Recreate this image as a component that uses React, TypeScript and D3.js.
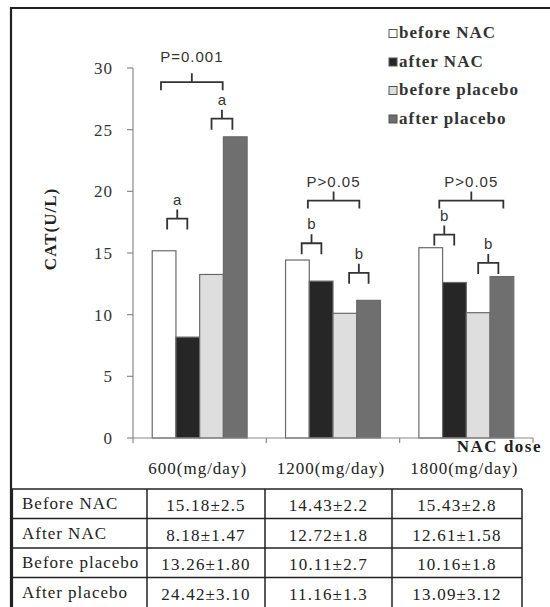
import React from 'react';
import * as d3 from 'd3';

const doses = ['600(mg/day)', '1200(mg/day)', '1800(mg/day)'];
const seriesNames = ['before NAC', 'after NAC', 'before placebo', 'after placebo'];
const seriesColors = ['#ffffff', '#262626', '#dedede', '#6f6f6f'];

const beforeNAC = [15.18, 14.43, 15.43];
const afterNAC = [8.18, 12.72, 12.61];
const beforePlacebo = [13.26, 10.11, 10.16];
const afterPlacebo = [24.42, 11.16, 13.09];

const beforeNACsd = ['2.5', '2.2', '2.8'];
const afterNACsd = ['1.47', '1.8', '1.58'];
const beforePlaceboSd = ['1.80', '2.7', '1.8'];
const afterPlaceboSd = ['3.10', '1.3', '3.12'];

const tableRows = ['Before NAC', 'After NAC', 'Before placebo', 'After placebo'];
const yTicks = [0, 5, 10, 15, 20, 25, 30];

// significance brackets: group index, span in bar units, base level in data units
const brackets = [
  { g: 0, u0: 0.37, u1: 2.97, level: 28.2, label: 'P=0.001', kind: 'p', gap: 11 },
  { g: 0, u0: 0.63, u1: 1.48, level: 16.9, label: 'a', kind: 'l', gap: 5 },
  { g: 0, u0: 2.5, u1: 3.38, level: 25.0, label: 'a', kind: 'l', gap: 5 },
  { g: 1, u0: 0.94, u1: 3.11, level: 18.6, label: 'P>0.05', kind: 'p', gap: 5 },
  { g: 1, u0: 0.68, u1: 1.51, level: 14.9, label: 'b', kind: 'l', gap: 5 },
  { g: 1, u0: 2.68, u1: 3.5, level: 12.5, label: 'b', kind: 'l', gap: 5 },
  { g: 2, u0: 0.86, u1: 3.56, level: 18.6, label: 'P>0.05', kind: 'p', gap: 5 },
  { g: 2, u0: 0.65, u1: 1.49, level: 15.6, label: 'b', kind: 'l', gap: 5 },
  { g: 2, u0: 2.5, u1: 3.35, level: 13.3, label: 'b', kind: 'l', gap: 5 },
];

const W = 550;
const H = 607;
const serif = 'Liberation Serif, DejaVu Serif, serif';
const sans = 'Liberation Sans, Arimo, sans-serif';

export default function App() {
  const series = [beforeNAC, afterNAC, beforePlacebo, afterPlacebo];
  const sds = [beforeNACsd, afterNACsd, beforePlaceboSd, afterPlaceboSd];

  const x = d3.scaleBand<string>().domain(doses).range([133, 533]).paddingInner(0).paddingOuter(0);
  const xSub = d3.scaleBand<string>().domain(seriesNames).range([0, x.bandwidth()]).paddingInner(0).paddingOuter(0.81);
  const y = d3.scaleLinear().domain([0, 30]).range([438, 68]);
  const bw = xSub.bandwidth();
  const gx = (g: number, u: number) => (x(doses[g]) as number) + (xSub(seriesNames[0]) as number) + u * bw;

  // table geometry
  const tTop = 489;
  const rowH = 29.5;
  const colEdges = [12, 147, 265, 392, 522];

  const axisColor = '#8a8a8a';

  return (
    <svg width={W} height={H} style={{ position: 'absolute', left: 0, top: 0, background: '#fff' }}>
      <rect x={0} y={0} width={W} height={H} fill="#fff" />
      {/* frame */}
      <line x1={11} x2={550} y1={8} y2={8} stroke="#222" strokeWidth={2.2} />
      <line x1={11} x2={11} y1={7} y2={H} stroke="#222" strokeWidth={2.2} />

      {/* y axis */}
      <line x1={133} x2={133} y1={y(30)} y2={y(0)} stroke={axisColor} strokeWidth={1.2} />
      {yTicks.map(t => (
        <g key={t}>
          <line x1={127} x2={133} y1={y(t)} y2={y(t)} stroke={axisColor} strokeWidth={1.2} />
          <text x={113} y={y(t) + 6} textAnchor="end" fontFamily={serif} fontSize={17} letterSpacing={1} fill="#333">
            {t}
          </text>
        </g>
      ))}
      <text
        transform={`translate(56, 229) rotate(-90)`}
        textAnchor="middle"
        fontFamily={serif}
        fontWeight="bold"
        fontSize={17}
        letterSpacing={1}
        fill="#222"
      >
        CAT(U/L)
      </text>

      {/* bars */}
      {doses.map((d, gi) => (
        <g key={d} transform={`translate(${x(d)},0)`}>
          {seriesNames.map((s, si) => (
            <rect
              key={s}
              x={xSub(s)}
              y={y(series[si][gi])}
              width={bw}
              height={y(0) - y(series[si][gi])}
              fill={seriesColors[si]}
              stroke="#6a6a6a"
              strokeWidth={1.2}
            />
          ))}
        </g>
      ))}

      {/* x axis */}
      <line x1={133} x2={533} y1={y(0)} y2={y(0)} stroke={axisColor} strokeWidth={1.2} />
      {[...doses.map(d => x(d) as number), 533].map((v, i) => (
        <line key={i} x1={v} x2={v} y1={y(0)} y2={y(0) + 5} stroke={axisColor} strokeWidth={1.2} />
      ))}
      {doses.map(d => (
        <text
          key={d}
          x={(x(d) as number) + x.bandwidth() / 2 - 2}
          y={474}
          textAnchor="middle"
          fontFamily={serif}
          fontSize={17}
          letterSpacing={1}
          fill="#222"
        >
          {d}
        </text>
      ))}
      <text x={542} y={452} textAnchor="end" fontFamily={serif} fontWeight="bold" fontSize={17} letterSpacing={1.5} fill="#222">
        NAC dose
      </text>

      {/* brackets */}
      {brackets.map((b, i) => {
        const x0 = gx(b.g, b.u0);
        const x1 = gx(b.g, b.u1);
        const xm = (x0 + x1) / 2;
        const yb = y(b.level);
        const yt = yb - (b.kind === 'p' ? 8 : 11);
        const ys = yt - 9;
        const ty = ys - b.gap;
        return (
          <g key={i}>
            <path
              d={`M${x0},${yb}V${yt}H${x1}V${yb}M${xm},${yt}V${ys}`}
              fill="none"
              stroke="#333"
              strokeWidth={1.8}
            />
            <text
              x={xm}
              y={ty}
              textAnchor="middle"
              fontFamily={sans}
              fontSize={15}
              letterSpacing={b.kind === 'p' ? 1 : 0}
              fill="#333"
            >
              {b.label}
            </text>
          </g>
        );
      })}

      {/* legend */}
      {seriesNames.map((s, i) => (
        <g key={s} transform={`translate(389, ${38 + i * 28.5})`}>
          <rect x={0} y={-8.5} width={8} height={8} fill={seriesColors[i]} stroke="#555" strokeWidth={1} />
          <text x={10} y={0} fontFamily={serif} fontWeight="bold" fontSize={17} letterSpacing={1} fill="#333">
            {s}
          </text>
        </g>
      ))}

      {/* table */}
      <g>
        {tableRows.map((r, ri) => (
          <line key={r} x1={colEdges[0]} x2={colEdges[4]} y1={tTop + ri * rowH} y2={tTop + ri * rowH} stroke="#222" strokeWidth={1.5} />
        ))}
        {colEdges.map((c, ci) => (
          <line key={ci} x1={c} x2={c} y1={tTop} y2={H} stroke="#222" strokeWidth={ci === 0 ? 2.2 : 1.5} />
        ))}
        {tableRows.map((r, ri) => (
          <g key={r}>
            <text x={22} y={tTop + ri * rowH + 20} fontFamily={serif} fontSize={17} letterSpacing={1} fill="#222">
              {r}
            </text>
            {doses.map((d, gi) => (
              <text
                key={d}
                x={(colEdges[gi + 1] + colEdges[gi + 2]) / 2}
                y={tTop + ri * rowH + 22}
                textAnchor="middle"
                fontFamily={serif}
                fontSize={17}
                letterSpacing={1.2}
                fill="#222"
              >
                {`${series[ri][gi].toFixed(2)}±${sds[ri][gi]}`}
              </text>
            ))}
          </g>
        ))}
      </g>
    </svg>
  );
}
